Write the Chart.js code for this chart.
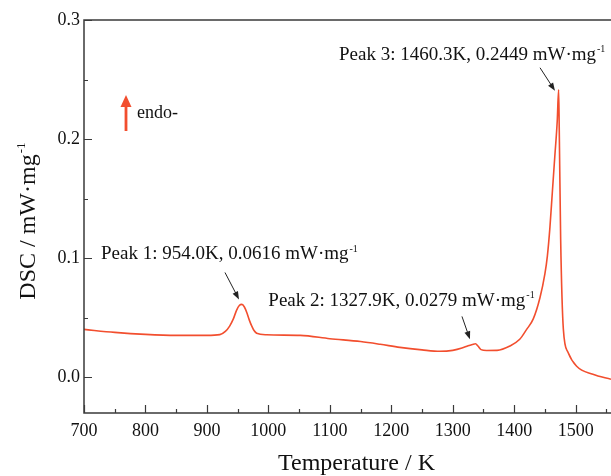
<!DOCTYPE html>
<html lang="en">
<head>
  <meta charset="UTF-8">
  <title>DSC curve</title>
  <script src="https://cdn.jsdelivr.net/npm/chart.js@4"></script>
  <style>
    body { margin: 0; background: #fff; }
    #wrap { width: 611px; height: 476px; }
  </style>
</head>
<body>
  <div id="wrap"><canvas id="dscChart" width="611" height="476"></canvas></div>

  <script>
    // temperature (K) and DSC signal (mW/mg)
    const temps = [700, 750, 800, 850, 900, 921, 930, 937, 943, 948,
      953, 957, 961, 965, 969, 973, 977, 981, 997, 1052,
      1100, 1150, 1182, 1214, 1250, 1279, 1300, 1315, 1325, 1332,
      1337, 1341, 1346, 1355, 1372, 1393, 1409, 1420, 1431, 1442,
      1450, 1454, 1458, 1462, 1466, 1470, 1472.3, 1473.3, 1475.6, 1480,
      1487.5, 1501.6, 1528, 1557.5];
    const dsc = [0.0402, 0.0377, 0.0360, 0.0352, 0.0352, 0.0358, 0.0385, 0.0430, 0.0490, 0.0560,
      0.0605, 0.0612, 0.0590, 0.0542, 0.0480, 0.0430, 0.0390, 0.0370, 0.0357, 0.0352,
      0.0324, 0.0300, 0.0277, 0.0251, 0.0230, 0.0218, 0.0226, 0.0245, 0.0265, 0.0276,
      0.0282, 0.0262, 0.0232, 0.0225, 0.0226, 0.0262, 0.0319, 0.0400, 0.0490, 0.0670,
      0.0870, 0.1020, 0.1250, 0.1550, 0.1850, 0.2150, 0.2414, 0.2080, 0.1157, 0.0402,
      0.0210, 0.0092, 0.0025, -0.0017];

    const xTicks = [700, 800, 900, 1000, 1100, 1200, 1300, 1400, 1500];
    const yTicks = [0.0, 0.1, 0.2, 0.3];

    const peakTexts = ['Peak 1: 954.0K, 0.0616 mW·mg', 'Peak 2: 1327.9K, 0.0279 mW·mg', 'Peak 3: 1460.3K, 0.2449 mW·mg'];

    // label anchor / arrow tail / arrow head, in data units
    const notes = [
      { at: [727.7, 0.0989], tail: [929.4, 0.088], head: [952.2, 0.0654] },
      { at: [999.9, 0.0595], tail: [1315, 0.0511], head: [1328, 0.0319] },
      { at: [1114.9, 0.2661], tail: [1442, 0.2599], head: [1466.3, 0.2406] }
    ];

    const serif = '"Liberation Serif", "Times New Roman", serif';
    const lineRed = '#f24e2e';
    const axisCol = '#3a3a3a';

    function arrow(ctx, x1, y1, x2, y2, color, headLen, headW, width) {
      const a = Math.atan2(y2 - y1, x2 - x1);
      ctx.save();
      ctx.strokeStyle = color;
      ctx.fillStyle = color;
      ctx.lineWidth = width;
      ctx.beginPath();
      ctx.moveTo(x1, y1);
      ctx.lineTo(x2 - Math.cos(a) * headLen * 0.8, y2 - Math.sin(a) * headLen * 0.8);
      ctx.stroke();
      ctx.translate(x2, y2);
      ctx.rotate(a);
      ctx.beginPath();
      ctx.moveTo(0, 0);
      ctx.lineTo(-headLen, -headW / 2);
      ctx.lineTo(-headLen, headW / 2);
      ctx.closePath();
      ctx.fill();
      ctx.restore();
    }

    // text followed by a small "-1" superscript
    function supText(ctx, text, x, y, size) {
      ctx.font = size + 'px ' + serif;
      ctx.fillText(text, x, y);
      const w = ctx.measureText(text).width;
      ctx.font = Math.round(size * 0.55) + 'px ' + serif;
      ctx.fillText('-1', x + w + 1, y - size * 0.42);
      return w + ctx.measureText('-1').width + 1;
    }

    const decor = {
      id: 'decor',
      afterDraw(chart) {
        const { ctx, chartArea: a, scales: { x, y } } = chart;
        ctx.save();

        // frame: left, bottom, top
        ctx.strokeStyle = axisCol;
        ctx.lineWidth = 1.5;
        ctx.beginPath();
        ctx.moveTo(a.right, a.top);
        ctx.lineTo(a.left, a.top);
        ctx.lineTo(a.left, a.bottom);
        ctx.lineTo(a.right, a.bottom);
        ctx.stroke();

        // inward ticks, minor every half step
        ctx.lineWidth = 1.2;
        ctx.beginPath();
        for (let v = 700; v <= 1550; v += 50) {
          const px = Math.round(x.getPixelForValue(v)) + 0.5;
          const len = v % 100 === 0 ? 8 : 4;
          ctx.moveTo(px, a.bottom);
          ctx.lineTo(px, a.bottom - len);
        }
        for (let i = 0; i <= 6; i++) {
          const v = i * 0.05;
          const py = Math.round(y.getPixelForValue(v)) + 0.5;
          const len = i % 2 === 0 ? 8 : 4;
          ctx.moveTo(a.left, py);
          ctx.lineTo(a.left + len, py);
        }
        ctx.stroke();

        // axis titles
        ctx.fillStyle = '#111';
        ctx.textBaseline = 'alphabetic';
        ctx.textAlign = 'left';
        ctx.font = '24px ' + serif;
        const xt = 'Temperature / K';
        ctx.fillText(xt, (a.left + a.right) / 2 + 9 - ctx.measureText(xt).width / 2, 470);

        ctx.save();
        ctx.translate(35, 220);
        ctx.rotate(-Math.PI / 2);
        ctx.font = '24px ' + serif;
        const yt = 'DSC / mW·mg';
        const yw = ctx.measureText(yt).width + 14;
        supText(ctx, yt, -yw / 2, 0, 24);
        ctx.restore();

        // peak labels and pointers
        ctx.fillStyle = '#111';
        notes.forEach((n, i) => {
          supText(ctx, peakTexts[i], x.getPixelForValue(n.at[0]), y.getPixelForValue(n.at[1]), 19);
          arrow(ctx, x.getPixelForValue(n.tail[0]), y.getPixelForValue(n.tail[1]),
            x.getPixelForValue(n.head[0]), y.getPixelForValue(n.head[1]), '#222', 8, 6, 1);
        });

        // endo marker
        arrow(ctx, 126, 131, 126, 95, lineRed, 12, 11, 2.8);
        ctx.fillStyle = '#111';
        ctx.font = '18px ' + serif;
        ctx.fillText('endo-', 137, 118);

        ctx.restore();
      }
    };

    new Chart(document.getElementById('dscChart'), {
      type: 'line',
      data: {
        datasets: [{
          label: 'DSC',
          data: temps.map((t, i) => ({ x: t, y: dsc[i] })),
          borderColor: lineRed,
          borderWidth: 1.6,
          pointRadius: 0,
          cubicInterpolationMode: 'monotone',
          fill: false
        }]
      },
      options: {
        responsive: false,
        animation: false,
        layout: { padding: { top: 20, right: 0, left: 0, bottom: 0 } },
        plugins: { legend: { display: false }, tooltip: { enabled: false } },
        scales: {
          x: {
            type: 'linear',
            min: 700,
            max: 1557.5,
            grid: { display: false, drawTicks: false },
            border: { display: false },
            afterBuildTicks: s => { s.ticks = xTicks.map(v => ({ value: v })); },
            afterFit: s => { s.height = 63; },
            ticks: {
              padding: 7,
              color: '#111',
              maxRotation: 0,
              autoSkip: false,
              font: { family: serif, size: 18 },
              callback: v => String(v)
            }
          },
          y: {
            min: -0.03,
            max: 0.3,
            grid: { display: false, drawTicks: false },
            border: { display: false },
            afterBuildTicks: s => { s.ticks = yTicks.map(v => ({ value: v })); },
            afterFit: s => { s.width = 84; },
            ticks: {
              padding: 4,
              color: '#111',
              font: { family: serif, size: 18 },
              callback: v => Number(v).toFixed(1)
            }
          }
        }
      },
      plugins: [decor]
    });
  </script>
</body>
</html>
